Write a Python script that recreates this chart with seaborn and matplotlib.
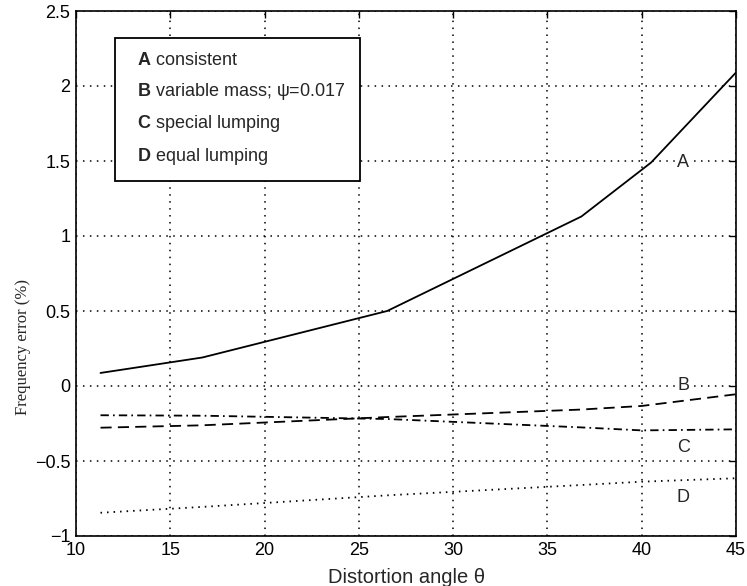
import matplotlib
matplotlib.use("Agg")
import matplotlib.pyplot as plt
import numpy as np
import pandas as pd
import seaborn as sns

# ---- data ----
theta_A = [11.3, 16.7, 26.5, 36.8, 40.5, 45.0]
err_A = [0.087, 0.19, 0.50, 1.13, 1.49, 2.09]

theta_BCD = [11.3, 16.7, 26.5, 36.8, 40.0, 45.0]
err_B = [-0.278, -0.262, -0.207, -0.157, -0.133, -0.055]
err_C = [-0.195, -0.198, -0.220, -0.276, -0.296, -0.289]
err_D = [-0.845, -0.806, -0.729, -0.660, -0.638, -0.615]

curve_letters = ["A", "B", "C", "D"]
legend_texts = ["consistent", "variable mass; \u03c8=0.017", "special lumping", "equal lumping"]
label_theta = 42.2
label_vals = [1.49, 0.0, -0.407, -0.74]

x_ticks = [10, 15, 20, 25, 30, 35, 40, 45]
y_ticks = [-1, -0.5, 0, 0.5, 1, 1.5, 2, 2.5]
y_tick_labels = ["\u22121", "\u22120.5", "0", "0.5", "1", "1.5", "2", "2.5"]

# ---- style ----
sns.set_style("white")
plt.rcParams["font.family"] = ["Liberation Sans", "DejaVu Sans"]
plt.rcParams["mathtext.fontset"] = "custom"
plt.rcParams["mathtext.bf"] = "Liberation Sans:bold"
plt.rcParams["mathtext.rm"] = "Liberation Sans"
plt.rcParams["mathtext.it"] = "Liberation Sans:italic"
plt.rcParams["lines.scale_dashes"] = False

df = pd.concat([
    pd.DataFrame({"theta": theta_A, "err": err_A, "curve": "A"}),
    pd.DataFrame({"theta": theta_BCD, "err": err_B, "curve": "B"}),
    pd.DataFrame({"theta": theta_BCD, "err": err_C, "curve": "C"}),
    pd.DataFrame({"theta": theta_BCD, "err": err_D, "curve": "D"}),
], ignore_index=True)

fig = plt.figure(figsize=(7.47, 5.86), dpi=100)
ax = fig.add_axes([76 / 747, 1 - 536 / 586, 660 / 747, 525 / 586])

dash_map = {"A": "", "B": (8, 4.5), "C": (6, 3, 1.2, 3), "D": (1.1, 3.6)}
sns.lineplot(data=df, x="theta", y="err", style="curve", dashes=dash_map,
             color="black", linewidth=1.3, legend=False, ax=ax, sort=True,
             estimator=None, zorder=3)

ax.set_xlim(10, 45)
ax.set_ylim(-1, 2.5)
ax.set_xticks(x_ticks)
ax.set_xticklabels([str(t) for t in x_ticks])
ax.set_yticks(y_ticks)
ax.set_yticklabels(y_tick_labels)
ax.tick_params(axis="both", which="major", direction="in", length=5, width=1,
               top=True, right=True, labelsize=13, colors="black", pad=4)
ax.grid(True, color="black", linestyle=(0, (1.1, 3.9)), linewidth=1.1, zorder=1)
for s in ax.spines.values():
    s.set_visible(True)
    s.set_color("black")
    s.set_linewidth(1.2)

ax.set_xlabel("Distortion angle \u03b8", fontsize=14.5, labelpad=7)
ax.set_ylabel("Frequency error (%)", fontsize=12, family=["Liberation Serif", "DejaVu Serif"])
ax.yaxis.set_label_coords(-0.068, 0.36)

# curve letters
for letter, v in zip(curve_letters, label_vals):
    ax.text(label_theta, v, letter, fontsize=13, ha="center", va="center", zorder=4,
            bbox=dict(facecolor="white", edgecolor="none", pad=0.5))

# legend box (text only)
handles = [plt.Line2D([], [], linestyle="none") for _ in curve_letters]
labels = [r"$\mathbf{%s}$ %s" % (l, t) for l, t in zip(curve_letters, legend_texts)]
leg = ax.legend(handles, labels, loc="upper left",
                bbox_to_anchor=((115 - 76) / 660, (536 - 38) / 525),
                borderaxespad=0, handlelength=0.4, handletextpad=0,
                fontsize=13, frameon=True, fancybox=False, framealpha=1,
                edgecolor="black", borderpad=0.8, labelspacing=0.63)
leg.get_frame().set_linewidth(1.3)
leg.set_zorder(5)

fig.savefig("out.png", dpi=100, facecolor="white")
